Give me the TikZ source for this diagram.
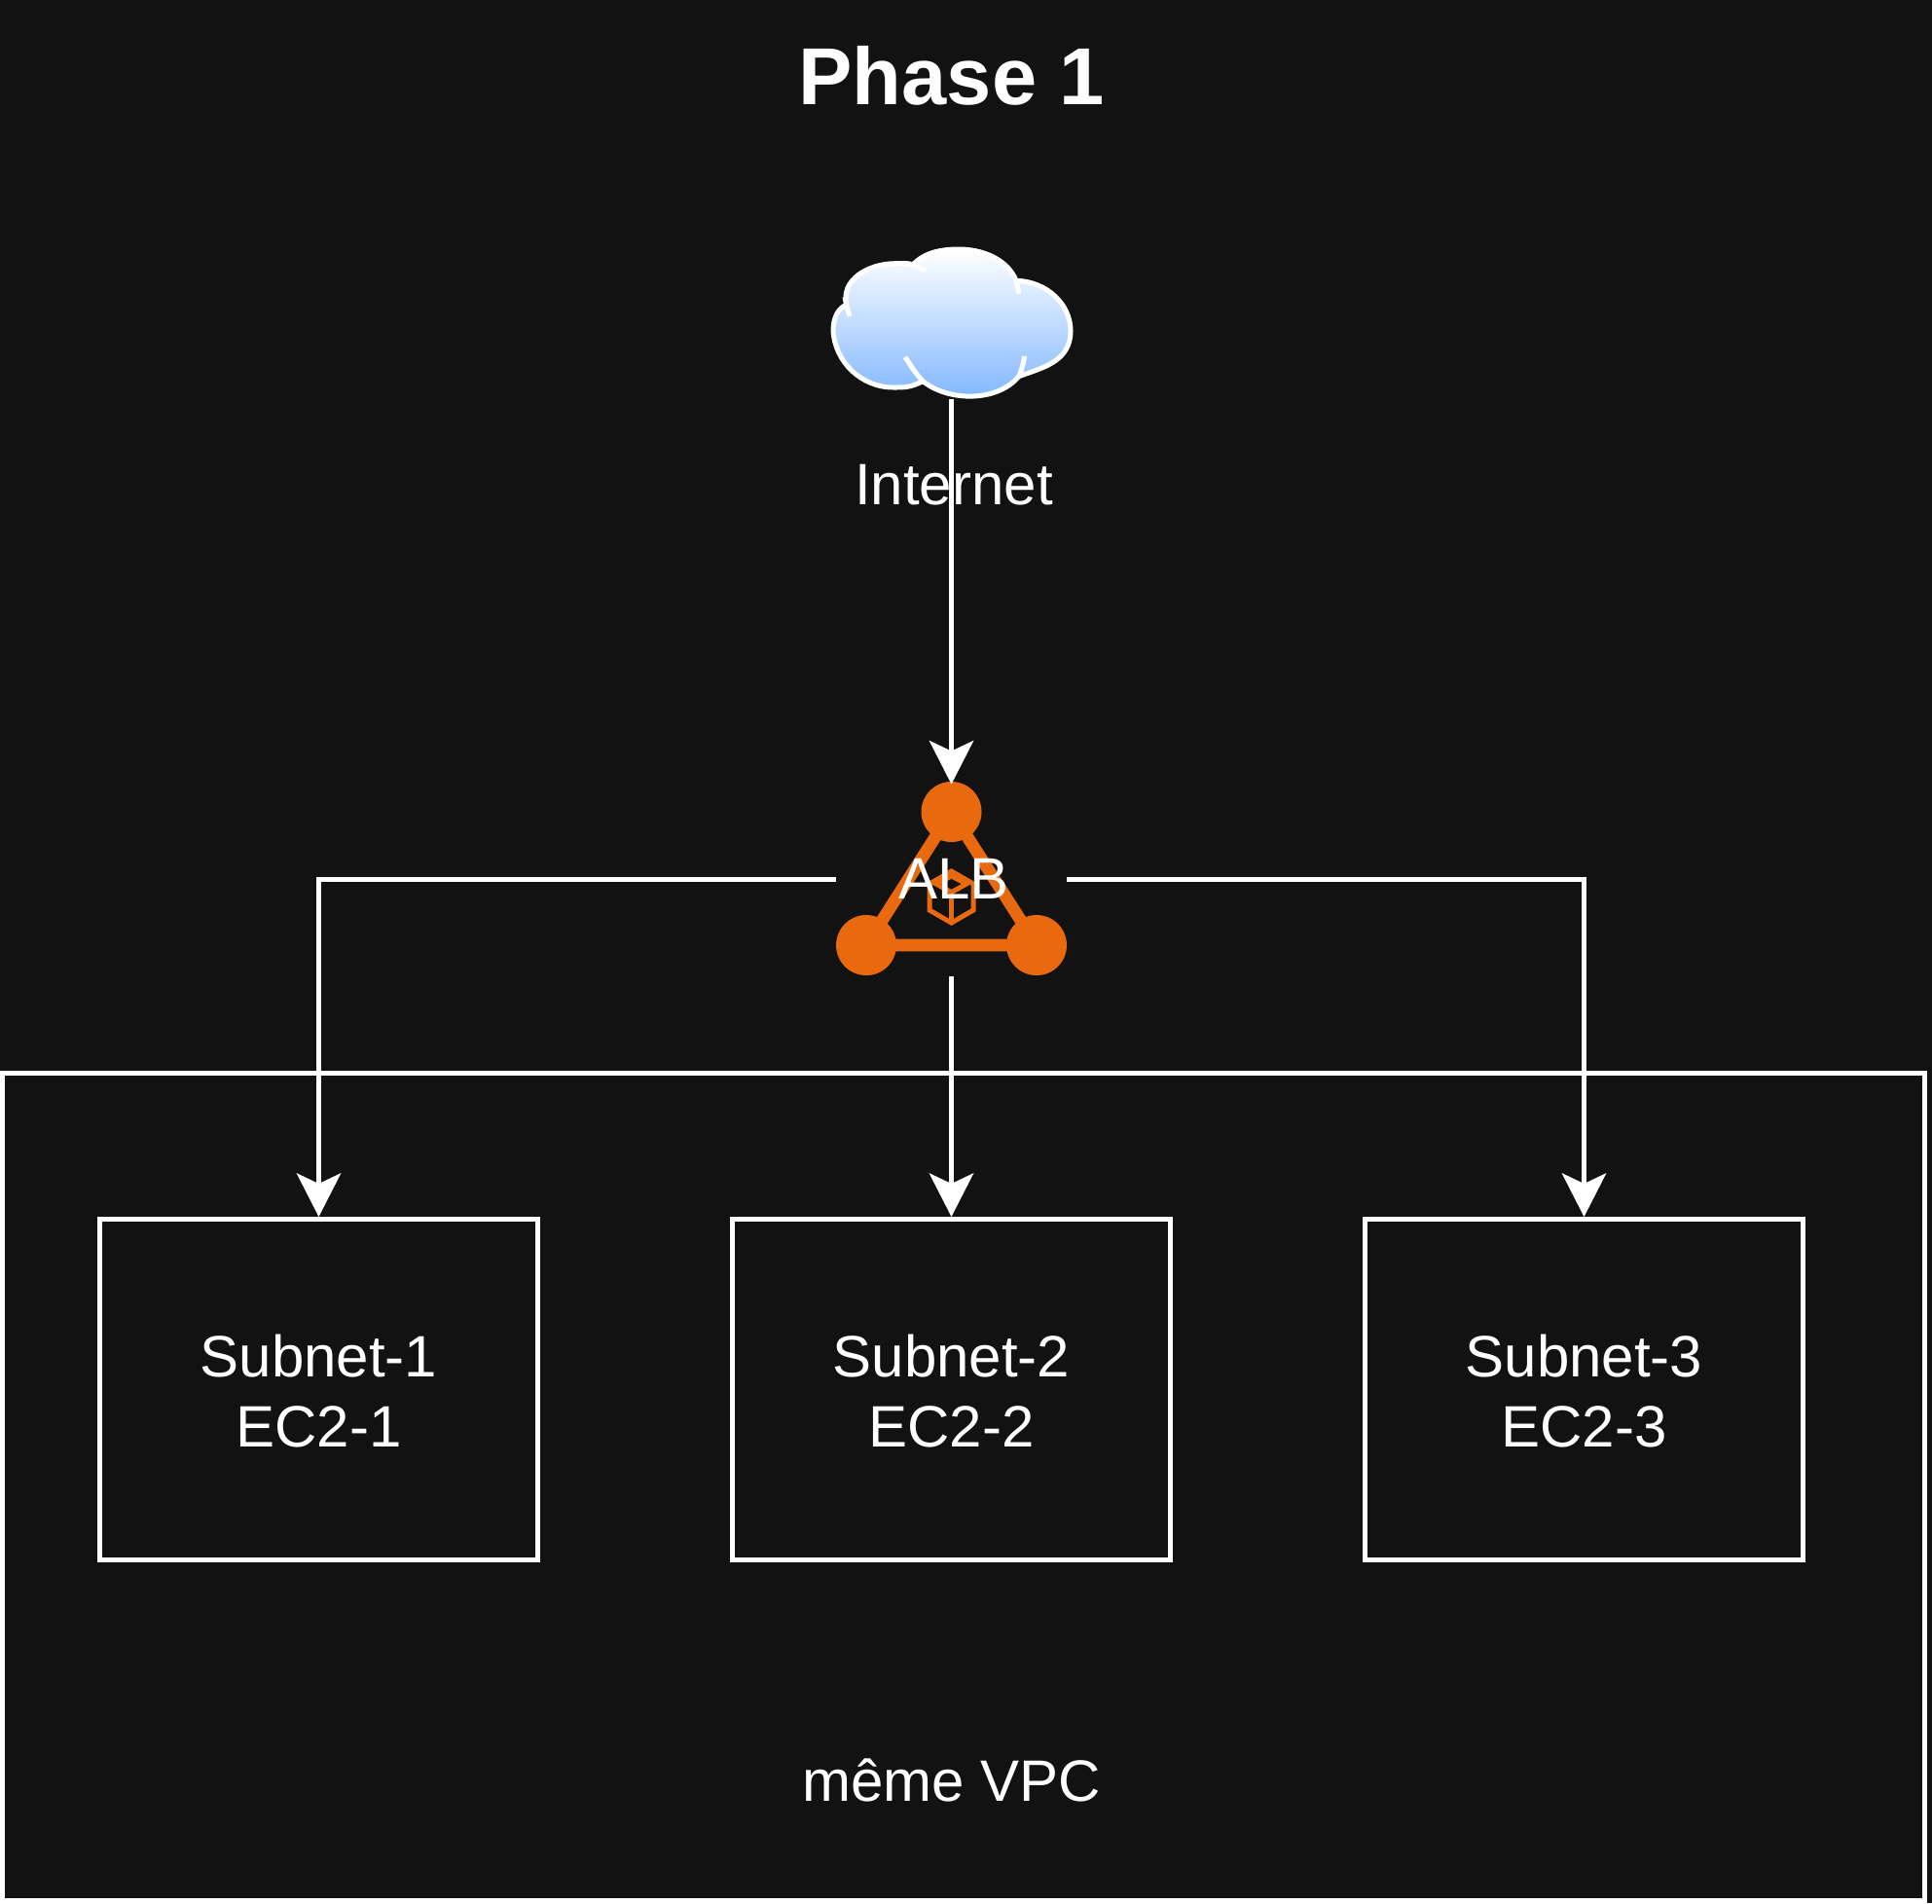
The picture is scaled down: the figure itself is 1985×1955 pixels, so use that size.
\documentclass[tikz,border=0pt]{standalone}
\usepackage{fontspec}
\setmainfont{Liberation Sans}
\usetikzlibrary{arrows.meta}
\definecolor{bgc}{HTML}{121212}
\definecolor{albc}{HTML}{E9690E}
\definecolor{cloudb}{HTML}{7EB6FF}
\newcommand{\nudge}{\rule{0pt}{23.2pt}}
\tikzset{
  x=0.5pt,y=-0.5pt,
  wire/.style={draw=white,line width=2.5pt},
  flow/.style={wire,-{Stealth[length=22.5pt,width=23pt,inset=5.5pt,line width=0pt]}},
  subnetbox/.style={draw=white,line width=2.5pt,minimum width=225pt,minimum height=175pt,inner sep=0pt,text=white,align=center,font=\fontsize{30pt}{36pt}\selectfont},
  lbl/.style={text=white,inner sep=0pt,align=center,font=\fontsize{30pt}{36pt}\selectfont},
  albdot/.style={circle,fill=albc,minimum size=31pt,inner sep=0pt},
  albbar/.style={draw=albc,line width=6.3pt},
  albthin/.style={draw=albc,line width=2.5pt,line join=miter},
}
\begin{document}
\begin{tikzpicture}
\useasboundingbox[fill=bgc] (0,0) rectangle (1985,1955);
% VPC frame
\node[draw=white,line width=2.5pt,minimum width=987.5pt,minimum height=425pt,inner sep=0pt] (vpc) at (990,1527.5) {};
\node[lbl] (vpclabel) at (977.5,1829) {même VPC};
% Title
\node[text=white,inner sep=0pt,font=\fontsize{41.5pt}{48pt}\selectfont\bfseries] (title) at (977.5,78) {Phase 1};
% Cloud
\path[top color=white,bottom color=cloudb,draw=white,line width=2.5pt,line join=round]
  (938.3,271.7) .. controls (950,259) and (968,256) .. (985,256)
  .. controls (1012,256) and (1036,268) .. (1044,288.3)
  .. controls (1075,289) and (1100,312) .. (1100,340)
  .. controls (1100,372) and (1070,378) .. (1046.7,386.7)
  .. controls (1025,413) and (975,413) .. (948.3,391.7)
  .. controls (935,398) and (930,398) .. (918,398)
  .. controls (885,398) and (858,372) .. (856,340)
  .. controls (856,325) and (862,316) .. (870,313)
  .. controls (863,288) and (892,270.5) .. (920,270.7)
  .. controls (925,270.5) and (932,270) .. (938.3,271.7) -- cycle;
\draw[wire] (873.3,325) .. controls (871,319) and (870,316) .. (868,305);
\draw[wire] (938.3,271.7) -- (950.7,278.3);
\draw[wire] (1044,288.3) -- (1047,301.7);
\draw[wire] (930,366.7) .. controls (937,378) and (942,385) .. (948.3,391.7);
\draw[wire] (1046.7,386.7) .. controls (1050,380) and (1051,374) .. (1052.7,366);
\node[minimum width=125pt,minimum height=80pt,inner sep=0pt] (cloud) at (977.5,330) {};
\node[lbl] (internet) at (980,498) {Internet};
% ALB icon
\node[albdot] (albt) at (977.5,834) {};
\node[albdot] (albl) at (890,971) {};
\node[albdot] (albr) at (1065,971) {};
\draw[albbar] (albt.center) -- (albl.center) -- (albr.center) -- cycle;
\draw[albthin] (977.5,895) -- (1000,908) -- (1000,935) -- (977.5,948) -- (955,935) -- (955,908) -- cycle;
\draw[albthin] (961.7,908) -- (977.5,900) -- (993,908) -- (977.5,916.7) -- cycle;
\draw[albthin] (977.5,916.7) -- (977.5,945);
\node[minimum width=118.5pt,minimum height=100pt,inner sep=0pt,outer sep=0pt] (alb) at (977.5,903) {};
\node[lbl] (alblabel) at (980,903) {ALB};
% Subnets
\node[subnetbox] (s1) at (327.5,1427.5) {\nudge Subnet-1\\EC2-1};
\node[subnetbox] (s2) at (977.5,1427.5) {\nudge Subnet-2\\EC2-2};
\node[subnetbox] (s3) at (1627.5,1427.5) {\nudge Subnet-3\\EC2-3};
% Connectors
\draw[flow] (cloud.south) -- ([yshift=-1.5pt]albt.north);
\draw[flow] (alb.west) -| (s1.north);
\draw[flow] (alb.south) -- (s2.north);
\draw[flow] (alb.east) -| (s3.north);
\end{tikzpicture}
\end{document}
